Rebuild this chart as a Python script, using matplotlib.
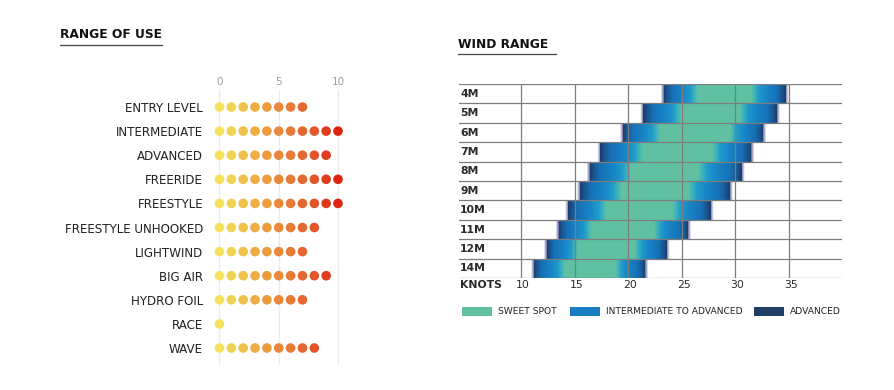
import numpy as np
import matplotlib
matplotlib.use("Agg")
import matplotlib.pyplot as plt
from matplotlib.colors import LinearSegmentedColormap, to_rgba
from matplotlib.patches import Rectangle
from matplotlib.lines import Line2D

# ---------------- data ----------------
use_categories = ['ENTRY LEVEL', 'INTERMEDIATE', 'ADVANCED', 'FREERIDE', 'FREESTYLE',
                  'FREESTYLE UNHOOKED', 'LIGHTWIND', 'BIG AIR', 'HYDRO FOIL', 'RACE', 'WAVE']
use_scores = [7, 10, 9, 10, 10, 8, 7, 9, 7, 0, 8]
use_ticks = [0, 5, 10]

kite_sizes = ['4M', '5M', '6M', '7M', '8M', '9M', '10M', '11M', '12M', '14M']
wind_min = [23.3, 21.4, 19.5, 17.4, 16.4, 15.5, 14.4, 13.5, 12.4, 11.2]
sweet_min = [26.5, 25.0, 23.0, 21.4, 20.3, 19.4, 18.0, 16.6, 15.3, 14.1]
sweet_max = [31.5, 30.4, 29.5, 27.8, 26.5, 25.6, 24.1, 22.4, 20.6, 18.8]
wind_max = [34.7, 33.9, 32.6, 31.5, 30.6, 29.5, 27.7, 25.6, 23.6, 21.6]
knot_ticks = [10, 15, 20, 25, 30, 35]
legend_labels = ['SWEET SPOT', 'INTERMEDIATE TO ADVANCED', 'ADVANCED']

# ---------------- styles ----------------
W, H = 895, 390
TEAL = '#5fc1a2'
BLUE = '#1a7cc1'
NAVY = '#1d3f66'
dot_cmap = LinearSegmentedColormap.from_list(
    'dots', ['#f4e35c', '#f0c04a', '#eb9a3e', '#e67a36', '#e2552a', '#dc2414'])

fig = plt.figure(figsize=(W / 100, H / 100), dpi=100)
fig.patch.set_facecolor('white')


def fx(px):
    return px / W


def fy(py):
    return 1 - py / H


def axes_px(left, top, right, bottom):
    return fig.add_axes([fx(left), fy(bottom), (right - left) / W, (bottom - top) / H])


LABEL_FONT = ['DejaVu Sans']
BOLD_FONT = ['DejaVu Sans']

# ---------------- left: range of use ----------------
px_per_unit = 11.85
ax1_left, ax1_right = 210, 362
x0_px = 219.5
ax1 = axes_px(ax1_left, 90, ax1_right, 365)
row_gap = 24.1
n = len(use_categories)
top_pad = (107 - 90) / row_gap
bot_pad = (365 - (107 + (n - 1) * row_gap)) / row_gap
ax1.set_ylim(n - 1 + bot_pad, -top_pad)
ax1.set_xlim(-(x0_px - ax1_left) / px_per_unit, (ax1_right - x0_px) / px_per_unit)
for t in use_ticks:
    ax1.axvline(t, color='#ebebeb', lw=0.9, zorder=0)
for i, (cat, sc) in enumerate(zip(use_categories, use_scores)):
    xs = np.arange(0, sc + 1)
    ax1.scatter(xs, np.full(len(xs), i), s=48, c=dot_cmap(xs / 10.0),
                edgecolors='none', zorder=3)
ax1.set_yticks(range(n))
ax1.set_yticklabels(use_categories, fontsize=8.6, color='#222222', family=LABEL_FONT)
ax1.tick_params(axis='y', length=0, pad=5)
ax1.xaxis.tick_top()
ax1.set_xticks(use_ticks)
ax1.set_xticklabels([str(t) for t in use_ticks], fontsize=7.5, color='#a0a0a0')
ax1.tick_params(axis='x', length=0, pad=2.5)
for s in ax1.spines.values():
    s.set_visible(False)
ax1.set_facecolor('none')

fig.text(fx(60), fy(35), 'RANGE OF USE', fontsize=8.8, fontweight='bold',
         color='#111111', va='center', ha='left', family=BOLD_FONT)
fig.add_artist(Line2D([fx(60), fx(162)], [fy(45), fy(45)], color='#444444', lw=0.9))

# ---------------- right: wind range ----------------
k_px = 10.72
k10 = 521.0
a2l, a2r, a2t, a2b = 459, 842, 84, 278
ax2 = axes_px(a2l, a2t, a2r, a2b)
xmin = 10 - (k10 - a2l) / k_px
xmax = 10 + (a2r - k10) / k_px
m = len(kite_sizes)
ax2.set_xlim(xmin, xmax)
ax2.set_ylim(m, 0)

stops = [(0.0, '#1a3d6b'), (0.1, '#1a5590'), (0.25, '#1670b5'), (0.55, '#1884c6'),
         (0.78, '#1f9acb'), (0.9, '#40b2bb'), (1.0, TEAL)]
grad = LinearSegmentedColormap.from_list('grad', stops)
fringe_rgb = np.array(to_rgba('#7478a8'))

xg = np.linspace(xmin, xmax, 3000)
img = np.ones((m, len(xg), 4))
img[..., 3] = 0
for i in range(m):
    s, lo, hi, e = wind_min[i], sweet_min[i], sweet_max[i], wind_max[i]
    row = np.zeros((len(xg), 4))
    left = (xg >= s) & (xg < lo)
    row[left] = grad((xg[left] - s) / (lo - s))
    mid = (xg >= lo) & (xg <= hi)
    row[mid] = to_rgba(TEAL)
    right = (xg > hi) & (xg <= e)
    row[right] = grad((e - xg[right]) / (e - hi))
    fw = 0.28
    fl = (xg >= s - fw) & (xg < s)
    row[fl] = fringe_rgb
    row[fl, 3] = (xg[fl] - (s - fw)) / fw
    fr = (xg > e) & (xg <= e + fw)
    row[fr] = fringe_rgb
    row[fr, 3] = ((e + fw) - xg[fr]) / fw
    img[i] = row
ax2.imshow(img, extent=(xmin, xmax, m, 0), aspect='auto', interpolation='nearest', zorder=1)

for t in knot_ticks:
    ax2.axvline(t, color='#7d7d7d', lw=0.9, zorder=3)
for j in range(m + 1):
    ax2.axhline(j, color='#7d7d7d', lw=0.9, zorder=3)
for i, lab in enumerate(kite_sizes):
    ax2.text(xmin + 0.1, i + 0.5, lab, fontsize=7.8, fontweight='bold', color='#2a2a2a',
             va='center', ha='left', family=BOLD_FONT, zorder=4)
ax2.set_xticks([])
ax2.set_yticks([])
for s in ax2.spines.values():
    s.set_visible(False)

ax2.text(xmin + 0.1, m + 0.38, 'KNOTS', fontsize=7.8, fontweight='bold', color='#2a2a2a',
         va='center', ha='left', family=BOLD_FONT, clip_on=False)
for t in knot_ticks:
    ax2.text(t + 0.2, m + 0.38, str(t), fontsize=7.8, color='#2a2a2a',
             va='center', ha='center', clip_on=False)

fig.text(fx(458), fy(44), 'WIND RANGE', fontsize=8.8, fontweight='bold',
         color='#111111', va='center', ha='left', family=BOLD_FONT)
fig.add_artist(Line2D([fx(458), fx(556)], [fy(54), fy(54)], color='#444444', lw=0.9))

# legend
leg_colors = [TEAL, BLUE, NAVY]
sw_x = [462, 570, 754]
for lab, col, x in zip(legend_labels, leg_colors, sw_x):
    fig.add_artist(Rectangle((fx(x), fy(316)), 30 / W, 9 / H, facecolor=col,
                             edgecolor='none', transform=fig.transFigure))
    fig.text(fx(x + 36), fy(311.5), lab, fontsize=6.6, color='#222222',
             va='center', ha='left')

fig.savefig('out.png', dpi=100, facecolor='white')
